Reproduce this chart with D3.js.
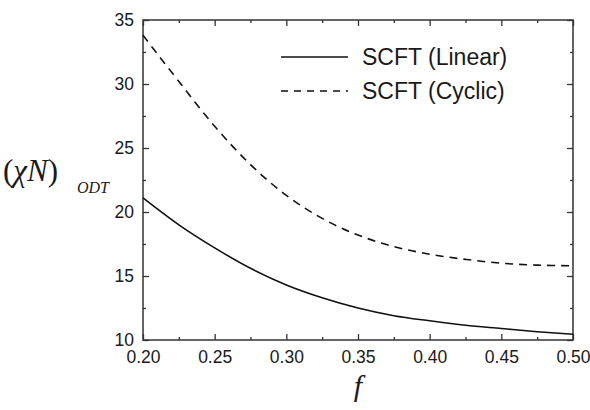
<!DOCTYPE html>
<html>
<head>
<meta charset="utf-8">
<script src="https://cdn.jsdelivr.net/npm/d3@7"></script>
<style>
  body { margin: 0; background: #fff; }
  svg text { fill: #1a1a1a; }
</style>
</head>
<body>
<div id="grafico"></div>
<script>
// valores
var fValores = [0.20, 0.225, 0.25, 0.275, 0.30, 0.325, 0.35, 0.375, 0.40, 0.425, 0.45, 0.475, 0.50];
var linealValores = [21.1, 19.0, 17.2, 15.6, 14.3, 13.3, 12.5, 11.9, 11.5, 11.15, 10.9, 10.65, 10.45];
var ciclicoValores = [33.8, 30.2, 26.7, 23.7, 21.3, 19.5, 18.2, 17.3, 16.7, 16.3, 16.0, 15.85, 15.8];
var ticksX = [0.20, 0.25, 0.30, 0.35, 0.40, 0.45, 0.50];
var ticksY = [10, 15, 20, 25, 30, 35];
var etiquetasLeyenda = ["SCFT (Linear)", "SCFT (Cyclic)"];

var ancho = 590, alto = 410;
var margen = { top: 20, right: 17, bottom: 70, left: 143 };

var svg = d3.select("#grafico").append("svg")
    .attr("width", ancho)
    .attr("height", alto);

var x = d3.scaleLinear().domain([0.2, 0.5]).range([margen.left, ancho - margen.right]);
var y = d3.scaleLinear().domain([10, 35]).range([alto - margen.bottom, margen.top]);

var colorEje = "#333";
var fuenteEjes = "Liberation Sans, Arial, sans-serif";

function ejes(eje, sel, conTexto) {
    var g = svg.append("g").attr("transform", sel);
    g.call(eje);
    g.select(".domain").remove();
    g.selectAll("line").attr("stroke", colorEje).attr("stroke-width", 1.3);
    if (!conTexto) g.selectAll("text").remove();
    else g.selectAll("text").style("font-family", fuenteEjes).style("font-size", "17.5px");
    return g;
}

var menoresX = d3.range(0.225, 0.5, 0.05);
var menoresY = d3.range(12.5, 35, 5);

// abajo
ejes(d3.axisBottom(x).tickValues(ticksX).tickSize(-6).tickFormat(d3.format(".2f")).tickPadding(11),
    "translate(0," + y(10) + ")", true);
ejes(d3.axisBottom(x).tickValues(menoresX).tickSize(-3), "translate(0," + y(10) + ")", false);
// arriba
ejes(d3.axisTop(x).tickValues(ticksX).tickSize(-6), "translate(0," + y(35) + ")", false);
ejes(d3.axisTop(x).tickValues(menoresX).tickSize(-3), "translate(0," + y(35) + ")", false);
// izquierda
ejes(d3.axisLeft(y).tickValues(ticksY).tickSize(-6).tickPadding(9),
    "translate(" + x(0.2) + ",0)", true);
ejes(d3.axisLeft(y).tickValues(menoresY).tickSize(-3), "translate(" + x(0.2) + ",0)", false);
// derecha
ejes(d3.axisRight(y).tickValues(ticksY).tickSize(-6), "translate(" + x(0.5) + ",0)", false);
ejes(d3.axisRight(y).tickValues(menoresY).tickSize(-3), "translate(" + x(0.5) + ",0)", false);

svg.append("rect")
    .attr("x", x(0.2))
    .attr("y", y(35))
    .attr("width", x(0.5) - x(0.2))
    .attr("height", y(10) - y(35))
    .attr("fill", "none")
    .attr("stroke", colorEje)
    .attr("stroke-width", 1.5);

var linea = d3.line()
    .x(function (d) { return x(d[0]); })
    .y(function (d) { return y(d[1]); })
    .curve(d3.curveCatmullRom.alpha(0.5));

svg.append("path")
    .datum(d3.zip(fValores, linealValores))
    .attr("d", linea)
    .attr("fill", "none")
    .attr("stroke", "#111")
    .attr("stroke-width", 1.6);

svg.append("path")
    .datum(d3.zip(fValores, ciclicoValores))
    .attr("d", linea)
    .attr("fill", "none")
    .attr("stroke", "#111")
    .attr("stroke-width", 1.6)
    .attr("stroke-dasharray", "8,6");

// leyenda
var leyenda = svg.append("g").selectAll("g")
    .data(etiquetasLeyenda)
    .enter().append("g")
    .attr("transform", function (d, i) { return "translate(281," + (57 + i * 34) + ")"; });

leyenda.append("line")
    .attr("x1", 0).attr("x2", 67)
    .attr("stroke", "#111")
    .attr("stroke-width", 1.5)
    .attr("stroke-dasharray", function (d, i) { return i === 1 ? "7,6" : null; });

leyenda.append("text")
    .attr("x", 81)
    .attr("y", 8)
    .style("font-family", fuenteEjes)
    .style("font-size", "23px")
    .text(function (d) { return d; });

// titulos
svg.append("text")
    .attr("x", 3)
    .attr("y", 181)
    .style("font-family", "Liberation Serif, Times New Roman, serif")
    .style("font-size", "31px")
    .html("(<tspan font-style='italic'>χN</tspan>)");

svg.append("text")
    .attr("x", 77)
    .attr("y", 193)
    .style("font-family", "Liberation Serif, Times New Roman, serif")
    .style("font-style", "italic")
    .style("font-size", "16px")
    .text("ODT");

svg.append("text")
    .attr("x", x(0.35))
    .attr("y", 396)
    .attr("text-anchor", "middle")
    .style("font-family", "Liberation Serif, Times New Roman, serif")
    .style("font-style", "italic")
    .style("font-size", "30px")
    .text("f");
</script>
</body>
</html>
